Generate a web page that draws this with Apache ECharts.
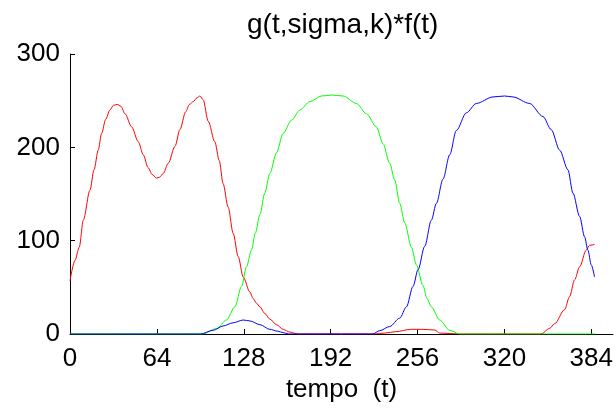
<!DOCTYPE html>
<html>
<head>
<meta charset="utf-8">
<script src="https://cdn.jsdelivr.net/npm/echarts@6/dist/echarts.min.js"></script>
<style>
html,body{margin:0;padding:0;background:#fff;}
#c{width:616px;height:410px;}
</style>
</head>
<body>
<div id="c"></div>
<script>
// ---- data ----
var xTicks = [0, 64, 128, 192, 256, 320, 384];
var yTicks = [0, 100, 200, 300];

var redT = [0,3.7,6.8,9.8,14.7,17.7,20.8,23.3,26.3,29.4,32,34.8,37.5,40.5,45.4,50.3,54,57.6,60.5,63.8,66,68.7,72.4,77.3,81,85.2,88,90.8,93.5,95.7,98.1,101.8,106.7,109.9,112.8,116.5,120.2,123.9,127.6,132.5,134.9,137.4,139.9,143.5,147.2,152.1,157,161.9,168,224,232,240,251,260,268.7,272.3,280,287,347,353.3,357,364.3,368,371.7,375.4,380.3,382.7,386.4];
var redV = [57,79,93,122,154,176,197,215,230,240,245,246,244,236,222,206,192,178,171,167,168,172,183,201,219,238,246,249,253,255,251,228,206,186,161,136,108,83,61,45,38,33,29,22,16,10,5,2,0,0,1,2.5,5,5,4.3,1,0.5,0,0,6,11,26,40,58,72,90,95,96];

var greenT = [0,98,108,115.3,121.4,126.4,130,133.7,136.5,139.9,143.5,147.2,152.1,157,163.2,169.3,176.7,185.3,193,201.2,211,218.4,225.7,230.6,235.5,239.2,242.9,246.6,251.5,255.2,260,263,266.2,272.3,279.7,287,387];
var greenV = [0,0,6,15,29,51,72,90,108,128,151,172,194,215,229,240,249,255,256,255,247,236,222,204,183,165,140,119,93,74,52,38,29,15,4,0,0];

var blueT = [0,96,105.5,112.8,120.2,127.6,132.5,139.9,147.2,153,157,161,223,228.2,235.5,242.9,247.8,252.7,256.4,261.3,266.2,269.9,274.8,279.7,284.6,292,299.3,311.6,320.2,326.3,338.6,348.4,354.5,360.7,366.8,370.5,375.4,379.1,381.5,384,386.4];
var blueV = [0,0,4,8.6,12,15,14,10,5,3,1.5,0,0,3.6,8,17,29,51,69,94,122,140,166,192,218,237,247,254,255,254,247,233,219,197,176,151,126,104,90,74,61];

function pairs(t, v) { return t.map(function (x, i) { return [x, v[i]]; }); }

var FONT = '"Liberation Sans", Arial, sans-serif';
var chart = echarts.init(document.getElementById('c'), null, {renderer: 'canvas'});

function line(name, t, v, color) {
  return {
    name: name, type: 'line', data: pairs(t, v), showSymbol: false, symbol: 'none',
    smooth: 0.3, smoothMonotone: 'x', animation: false,
    lineStyle: {color: color, width: 1}, itemStyle: {color: color}
  };
}

chart.setOption({
  animation: false,
  backgroundColor: '#ffffff',
  title: {
    text: 'g(t,sigma,k)*f(t)',
    left: 242, top: 6,
    textStyle: {fontFamily: FONT, fontSize: 28, fontWeight: 'normal', color: '#000'}
  },
  grid: {left: 70, right: 3, top: 54, bottom: 76, containLabel: false},
  xAxis: {
    type: 'value', min: 0, max: 400,
    name: 'tempo  (t)', nameLocation: 'middle', nameGap: 38,
    nameTextStyle: {fontFamily: FONT, fontSize: 26, color: '#000'},
    axisLine: {show: true, onZero: false, lineStyle: {color: '#000', width: 1}},
    axisTick: {show: true, inside: true, length: 5, lineStyle: {color: '#000'}, customValues: xTicks},
    axisLabel: {fontFamily: FONT, fontSize: 26, color: '#000', margin: 12, customValues: xTicks},
    splitLine: {show: false}
  },
  yAxis: {
    type: 'value', min: 0, max: 300, interval: 100,
    axisLine: {show: true, lineStyle: {color: '#000', width: 1}},
    axisTick: {show: true, inside: true, length: 5, lineStyle: {color: '#000'}, customValues: yTicks},
    axisLabel: {fontFamily: FONT, fontSize: 26, color: '#000', margin: 10, customValues: yTicks},
    splitLine: {show: false}
  },
  series: [
    line('red', redT, redV, '#ff0000'),
    line('green', greenT, greenV, '#00ff00'),
    line('blue', blueT, blueV, '#0000ff')
  ]
});
</script>
</body>
</html>
